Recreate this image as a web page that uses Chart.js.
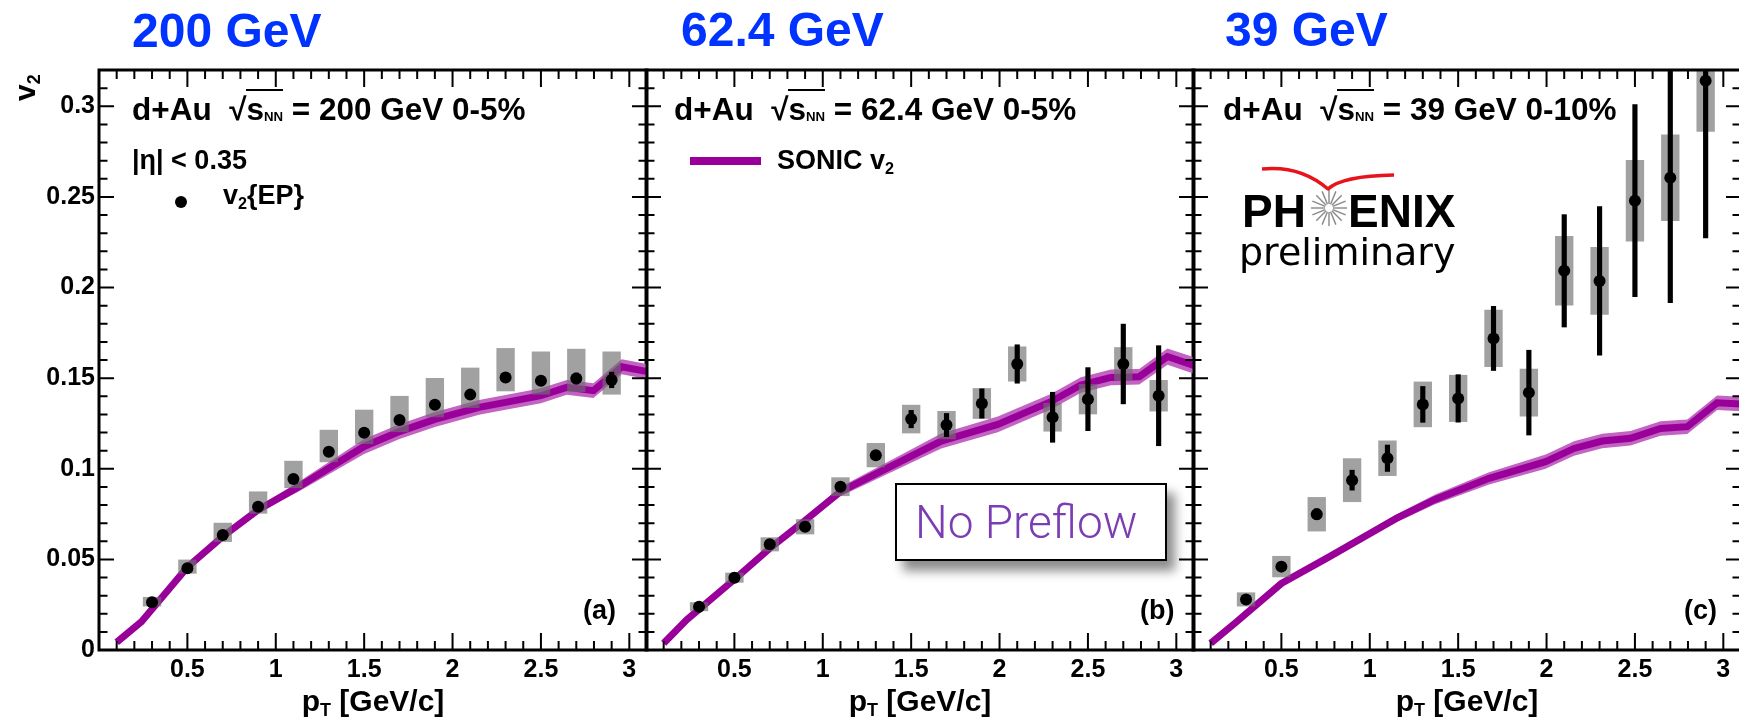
<!DOCTYPE html>
<html>
<head>
<meta charset="utf-8">
<script src="https://cdn.jsdelivr.net/npm/chart.js@4.4.1/dist/chart.umd.min.js"></script>
<style>
  html, body { margin: 0; padding: 0; background: #fff; overflow: hidden; width: 1739px; height: 725px; }
  canvas { position: absolute; left: 0; top: 0; }
  .lbl { position: absolute; line-height: 1; white-space: nowrap; font-family: "Liberation Sans", Arial, sans-serif; font-weight: bold; color: #000; }
  .sub { font-size: 0.6em; position: relative; top: 0.3em; }
  .nn { font-size: 0.42em; position: relative; top: 0.05em; }
  .ov { border-top: 2px solid #000; }
  .blue { color: #0033ff; }
  #np { position: absolute; left: 895px; top: 483px; width: 268px; height: 74px; border: 2px solid #000; background: #fff; box-shadow: 8px 10px 10px rgba(0,0,0,0.45); }
</style>
</head>
<body>
<canvas id="c3" width="1760" height="725"></canvas>
<canvas id="c2" width="1760" height="725"></canvas>
<canvas id="c1" width="1760" height="725"></canvas>
<div id="np"></div>
<svg id="logo" style="position:absolute;left:0;top:0" width="1739" height="725"></svg>
<script>
// pT bin centres of the measured points
const ptX = [0.3, 0.5, 0.7, 0.9, 1.1, 1.3, 1.5, 1.7, 1.9, 2.1, 2.3, 2.5, 2.7, 2.9];

// 200 GeV, 0-5%
const v2_200      = [0.0263, 0.0451, 0.0635, 0.079, 0.0943, 0.1094, 0.1199, 0.1269, 0.1353, 0.1409, 0.1504, 0.1486, 0.1498, 0.149];
const stat_200    = [0.0008, 0.001, 0.001, 0.001, 0.001, 0.0012, 0.0012, 0.0013, 0.0015, 0.0017, 0.002, 0.0022, 0.003, 0.0043];
const sysUp_200   = [0.0028, 0.0046, 0.0065, 0.0083, 0.0099, 0.0119, 0.0125, 0.0131, 0.0146, 0.0147, 0.016, 0.0159, 0.0162, 0.0155];
const sysDown_200 = [0.0021, 0.0028, 0.0037, 0.0036, 0.0048, 0.0056, 0.0061, 0.0065, 0.0067, 0.0072, 0.0075, 0.0075, 0.0073, 0.0079];
const sonicX_200  = [0.1, 0.24, 0.5, 0.7, 0.9, 1.13, 1.5, 1.7, 1.9, 2.15, 2.3, 2.5, 2.646, 2.797, 2.957, 3.107];
const sonicV_200  = [0.0043, 0.0156, 0.0457, 0.0626, 0.0773, 0.0901, 0.1123, 0.1205, 0.1272, 0.1339, 0.1366, 0.1403, 0.1449, 0.1431, 0.1563, 0.1535];
const sonicE_200  = [0.0005, 0.0005, 0.0008, 0.001, 0.0017, 0.0027, 0.0041, 0.0041, 0.0041, 0.0041, 0.0041, 0.0041, 0.0041, 0.0041, 0.0041, 0.0041];

// 62.4 GeV, 0-5%
const v2_62      = [0.0239, 0.0399, 0.0583, 0.068, 0.0901, 0.1075, 0.1274, 0.1241, 0.136, 0.1578, 0.1284, 0.1384, 0.1578, 0.1403];
const stat_62    = [0.001, 0.001, 0.0012, 0.0015, 0.002, 0.0025, 0.0048, 0.0064, 0.0081, 0.0106, 0.0138, 0.0174, 0.022, 0.0276];
const sys_62     = [0.0023, 0.0026, 0.0037, 0.004, 0.005, 0.0065, 0.0077, 0.0076, 0.0083, 0.0095, 0.0077, 0.0082, 0.0091, 0.0085];
const sonicX_62  = [0.1, 0.23, 0.5, 0.7, 0.9, 1.1, 1.67, 1.99, 2.29, 2.46, 2.63, 2.79, 2.95, 3.12];
const sonicV_62  = [0.0037, 0.0166, 0.039, 0.0561, 0.0715, 0.0874, 0.1153, 0.1245, 0.137, 0.1462, 0.1504, 0.1508, 0.1619, 0.1563];
const sonicE_62  = [0.0005, 0.0005, 0.0008, 0.001, 0.0017, 0.0026, 0.0041, 0.0043, 0.0043, 0.0043, 0.0043, 0.0043, 0.0045, 0.0045];

// 39 GeV, 0-10%
const v2_39      = [0.0279, 0.046, 0.0749, 0.0937, 0.1058, 0.1355, 0.1388, 0.1719, 0.142, 0.2092, 0.2036, 0.2479, 0.2606, 0.3141];
const stat_39    = [0.0008, 0.001, 0.003, 0.0055, 0.0073, 0.0099, 0.0131, 0.0177, 0.0234, 0.031, 0.041, 0.053, 0.069, 0.0867];
const sys_39     = [0.0037, 0.0057, 0.0093, 0.0119, 0.0096, 0.0124, 0.0128, 0.0156, 0.013, 0.019, 0.0185, 0.0223, 0.0237, 0.028];
const sonicX_39  = [0.1, 0.236, 0.5, 0.77, 1.15, 1.37, 1.675, 1.995, 2.155, 2.315, 2.475, 2.645, 2.796, 2.965, 3.12];
const sonicV_39  = [0.0037, 0.0147, 0.0367, 0.0514, 0.0726, 0.0831, 0.0947, 0.1039, 0.1112, 0.1153, 0.1168, 0.1222, 0.1232, 0.1364, 0.1356];
const sonicE_39  = [0.0005, 0.0005, 0.0008, 0.001, 0.0021, 0.0027, 0.0034, 0.0039, 0.004, 0.004, 0.004, 0.004, 0.004, 0.004, 0.004];

const xTickValues = [0.5, 1, 1.5, 2, 2.5, 3];
const yTickValues = [0, 0.05, 0.1, 0.15, 0.2, 0.25, 0.3];

const FONT = '"Liberation Sans", Arial, sans-serif';
const fmt = v => String(+v.toFixed(2));

// ROOT style frame with ticks pointing inward
const rootFrame = {
    id: 'rootFrame',
    afterDatasetsDraw(chart) {
        const { ctx, chartArea: a, scales: { x, y } } = chart;
        ctx.save();
        ctx.strokeStyle = '#000';
        ctx.lineWidth = 2;
        ctx.beginPath();
        for (let i = 1; i <= 30; i++) {
            const px = x.getPixelForValue(i / 10);
            const len = i % 5 === 0 ? 17 : 9;
            ctx.moveTo(px, a.bottom); ctx.lineTo(px, a.bottom - len);
            ctx.moveTo(px, a.top); ctx.lineTo(px, a.top + len);
        }
        for (let i = 1; i <= 31; i++) {
            const py = y.getPixelForValue(i / 100);
            const len = i % 5 === 0 ? 15 : 8.5;
            ctx.moveTo(a.left, py); ctx.lineTo(a.left + len, py);
            ctx.moveTo(a.right, py); ctx.lineTo(a.right - len, py);
        }
        ctx.stroke();
        ctx.lineWidth = 3;
        ctx.strokeRect(a.left, a.top, a.right - a.left, a.bottom - a.top);
        ctx.restore();
    }
};

function makePanel(id, d, left, right, showY) {
    const pts = ptX.map((x, i) => ({ x, y: d.v2[i] }));
    const errs = ptX.map((x, i) => ({ x, y: [d.v2[i] - d.stat[i], d.v2[i] + d.stat[i]] }));
    const boxes = ptX.map((x, i) => ({ x, y: [d.v2[i] - d.sysDown[i], d.v2[i] + d.sysUp[i]] }));
    const mid = d.sonicX.map((x, i) => ({ x, y: d.sonicV[i] }));
    const lo = d.sonicX.map((x, i) => ({ x, y: d.sonicV[i] - d.sonicE[i] }));
    const hi = d.sonicX.map((x, i) => ({ x, y: d.sonicV[i] + d.sonicE[i] }));

    const canvasW = 1760;
    return new Chart(document.getElementById(id), {
        type: 'scatter',
        data: {
            datasets: [
                { type: 'scatter', data: pts, pointRadius: 6, pointHoverRadius: 6, backgroundColor: '#000', borderWidth: 0, order: 0, clip: 0 },
                { type: 'bar', data: errs, backgroundColor: '#000', barThickness: 4.5, grouped: false, order: 1, clip: 0 },
                { type: 'bar', data: boxes, backgroundColor: 'rgba(110,110,110,0.65)', barThickness: 17.7, grouped: false, order: 2, clip: 0 },
                { type: 'line', data: mid, borderColor: '#990099', borderWidth: 7, pointRadius: 0, fill: false, tension: 0, order: 3, clip: 0 },
                { type: 'line', data: lo, borderWidth: 0, pointRadius: 0, fill: false, order: 4, clip: 0 },
                { type: 'line', data: hi, borderWidth: 0, pointRadius: 0, fill: '-1', backgroundColor: '#c264c2', order: 5, clip: 0 }
            ]
        },
        options: {
            responsive: false,
            animation: false,
            events: [],
            layout: { padding: { left: showY ? 0 : left, right: canvasW - right, top: 70, bottom: 0 } },
            plugins: { legend: { display: false }, tooltip: { enabled: false } },
            scales: {
                x: {
                    type: 'linear', min: 0, max: 3.1, bounds: 'data', offset: false,
                    grid: { display: false, drawTicks: false }, border: { display: false },
                    ticks: { font: { family: FONT, size: 25, weight: 'bold' }, color: '#000', padding: 5, maxRotation: 0, autoSkip: false, callback: fmt },
                    afterBuildTicks: s => { s.ticks = xTickValues.map(value => ({ value })); },
                    afterFit: s => { s.height = 75; }
                },
                y: {
                    type: 'linear', min: 0, max: 0.32, bounds: 'data', display: showY,
                    grid: { display: false, drawTicks: false }, border: { display: false },
                    ticks: { font: { family: FONT, size: 25, weight: 'bold' }, color: '#000', padding: 4, callback: fmt },
                    afterBuildTicks: s => { s.ticks = yTickValues.map(value => ({ value })); },
                    afterFit: s => { if (showY) s.width = left; }
                }
            }
        },
        plugins: [rootFrame]
    });
}

makePanel('c1', { v2: v2_200, stat: stat_200, sysUp: sysUp_200, sysDown: sysDown_200, sonicX: sonicX_200, sonicV: sonicV_200, sonicE: sonicE_200 }, 99, 647, true);
makePanel('c2', { v2: v2_62, stat: stat_62, sysUp: sys_62, sysDown: sys_62, sonicX: sonicX_62, sonicV: sonicV_62, sonicE: sonicE_62 }, 646, 1194, false);
makePanel('c3', { v2: v2_39, stat: stat_39, sysUp: sys_39, sysDown: sys_39, sonicX: sonicX_39, sonicV: sonicV_39, sonicE: sonicE_39 }, 1193, 1741, false);

// text placed by baseline
function addText(html, x, base, size, extra) {
    const el = document.createElement('div');
    el.className = 'lbl';
    el.innerHTML = html;
    el.style.left = x + 'px';
    el.style.top = (base - 0.846 * size) + 'px';
    el.style.fontSize = size + 'px';
    if (extra) Object.assign(el.style, extra);
    document.body.appendChild(el);
    return el;
}

const sqrtS = '√<span class="ov">s<span class="nn">NN</span></span>';

addText('<span class="blue">200 GeV</span>', 132, 48, 48);
addText('<span class="blue">62.4 GeV</span>', 681, 47, 48);
addText('<span class="blue">39 GeV</span>', 1225, 47, 48);

addText('d+Au&nbsp; ' + sqrtS + ' = 200 GeV 0-5%', 132, 121, 31.5);
addText('d+Au&nbsp; ' + sqrtS + ' = 62.4 GeV 0-5%', 674, 121, 31.5);
addText('d+Au&nbsp; ' + sqrtS + ' = 39 GeV 0-10%', 1223, 121, 31.5);

addText('|η| &lt; 0.35', 132, 170, 27);
addText('v<span class="sub">2</span>{EP}', 223, 205, 27);
const dot = document.createElement('div');
dot.style.cssText = 'position:absolute;left:175px;top:196px;width:12px;height:12px;border-radius:50%;background:#000;';
document.body.appendChild(dot);

const legLine = document.createElement('div');
legLine.style.cssText = 'position:absolute;left:690px;top:157px;width:71px;height:8px;background:#990099;';
document.body.appendChild(legLine);
addText('SONIC v<span class="sub">2</span>', 777, 170, 27);

addText('(a)', 583, 620, 27);
addText('(b)', 1140, 620, 27);
addText('(c)', 1684, 620, 27);

addText('No Preflow', 915, 538, 46, { fontFamily: 'Roboto, "Open Sans", sans-serif', fontWeight: '300', color: '#7b3db3' });

// x axis titles, centred on each panel
[373, 920, 1467].forEach(cx => {
    addText('p<span class="sub">T</span> [GeV/c]', cx, 711, 30, { transform: 'translateX(-50%)' });
});

// y axis title, rotated
const yt = addText('v<span class="sub">2</span>', 0, 0, 30);
yt.style.top = '0px';
yt.style.transformOrigin = '0 0';
yt.style.transform = 'translate(' + (35 - 0.846 * 30) + 'px, 101px) rotate(-90deg)';

// PHENIX preliminary logo
addText('PH', 1242, 227, 46);
addText('ENIX', 1348, 227, 46);
addText('preliminary', 1239, 265, 38, { fontFamily: '"DejaVu Sans", sans-serif', fontWeight: 'normal' });

const svg = document.getElementById('logo');
let rays = '';
for (let k = 0; k < 16; k++) {
    const t = k * Math.PI / 8;
    rays += '<line x1="' + (1329 + 4 * Math.cos(t)) + '" y1="' + (208 + 4 * Math.sin(t)) +
        '" x2="' + (1329 + 18 * Math.cos(t)) + '" y2="' + (208 + 18 * Math.sin(t)) + '" />';
}
svg.innerHTML = '<g stroke="#888" stroke-width="1.4">' + rays + '</g>' +
    '<path d="M1262,169 Q1300,165 1328,189 Q1342,176 1394,175" fill="none" stroke="#e8141c" stroke-width="3.5" stroke-linejoin="round"/>';
</script>
</body>
</html>
